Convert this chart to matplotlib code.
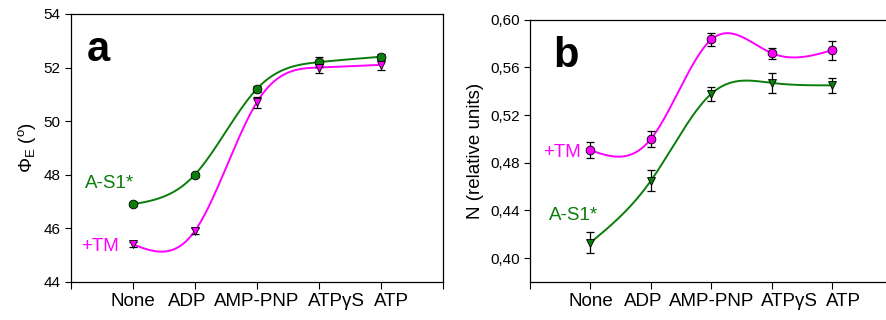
import numpy as np
import matplotlib
matplotlib.use("Agg")
import matplotlib.pyplot as plt

plt.rcParams.update({
    'font.family': ['Liberation Sans', 'DejaVu Sans'],
    'mathtext.fontset': 'custom',
    'mathtext.rm': 'Liberation Sans',
    'mathtext.it': 'Liberation Sans:italic',
})

# ── Data ──
labels = ['None', 'ADP', 'AMP-PNP', 'ATP\u03b3S', 'ATP']
# label centres are nudged off the ticks, as in the original figure
label_pos = [0.0, 0.87, 2.0, 3.29, 4.18]

# panel a: Phi_E (degrees)
a_s1_phi = [46.9, 48.0, 51.2, 52.2, 52.4]
a_s1_phi_err = [0.08, 0.08, 0.12, 0.18, 0.12]
tm_phi = [45.4, 45.9, 50.7, 52.0, 52.1]
tm_phi_err = [0.08, 0.12, 0.2, 0.2, 0.2]

# panel b: N (relative units)
tm_n = [0.4905, 0.500, 0.5835, 0.572, 0.5745]
tm_n_err = [0.0067, 0.0067, 0.0056, 0.0045, 0.0078]
a_s1_n = [0.413, 0.465, 0.538, 0.547, 0.545]
a_s1_n_err = [0.009, 0.009, 0.006, 0.008, 0.006]

GREEN = '#0a7d0a'
MAGENTA = '#ff00ff'


def natural_spline(y, n=300):
    """Natural cubic spline through equally spaced points x = 0..len(y)-1."""
    y = np.asarray(y, float)
    m = len(y)
    A = np.zeros((m, m))
    r = np.zeros(m)
    A[0, 0] = A[-1, -1] = 1
    for i in range(1, m - 1):
        A[i, i - 1], A[i, i], A[i, i + 1] = 1, 4, 1
        r[i] = 6 * (y[i + 1] - 2 * y[i] + y[i - 1])
    M = np.linalg.solve(A, r)
    xs = np.linspace(0, m - 1, n)
    idx = np.clip(np.floor(xs).astype(int), 0, m - 2)
    t = xs - idx
    ys = ((1 - t) * y[idx] + t * y[idx + 1]
          + ((1 - t) ** 3 - (1 - t)) * M[idx] / 6
          + (t ** 3 - t) * M[idx + 1] / 6)
    return xs, ys


def series(ax, vals, errs, color, marker):
    x = np.arange(len(vals))
    xs, ys = natural_spline(vals)
    ax.plot(xs, ys, color=color, lw=1.4, zorder=2)
    ax.errorbar(x, vals, yerr=errs, fmt='none', ecolor='black',
                elinewidth=0.9, capsize=3, capthick=0.9, zorder=3)
    ax.plot(x, vals, linestyle='none', marker=marker, ms=6.3,
            mfc=color, mec='black', mew=0.6, zorder=4)


def style_axes(ax):
    ax.set_xlim(-1, 5)
    ax.xaxis.remove_overlapping_locs = False
    ax.set_xticks(range(-1, 6))
    ax.set_xticklabels([])
    ax.set_xticks(label_pos, minor=True)
    ax.set_xticklabels(labels, minor=True, fontsize=13.5)
    ax.tick_params(axis='x', which='major', direction='out', length=5)
    ax.tick_params(axis='x', which='minor', length=0, pad=8)
    ax.tick_params(axis='y', direction='out', length=4, labelsize=11)
    for s in ax.spines.values():
        s.set_linewidth(0.9)


fig = plt.figure(figsize=(8.87, 3.2), dpi=100)

# ── Panel a ──
ax1 = fig.add_axes([0.080, 0.119, 0.419, 0.8375])
series(ax1, a_s1_phi, a_s1_phi_err, GREEN, 'o')
series(ax1, tm_phi, tm_phi_err, MAGENTA, 'v')
style_axes(ax1)
ax1.set_ylim(44, 54)
ax1.set_yticks(range(44, 55, 2))
ax1.set_ylabel(r'$\Phi_\mathrm{E}$ ($^\mathrm{o}$)', fontsize=13.5, labelpad=4)
ax1.text(-0.75, 52.65, 'a', fontsize=30, fontweight='bold', va='center')
ax1.text(-0.77, 47.68, 'A-S1*', color=GREEN, fontsize=13.5, va='center')
ax1.text(-0.83, 45.32, '+TM', color=MAGENTA, fontsize=13.5, va='center')

# ── Panel b ──
ax2 = fig.add_axes([0.5975, 0.119, 0.409, 0.819])
series(ax2, tm_n, tm_n_err, MAGENTA, 'o')
series(ax2, a_s1_n, a_s1_n_err, GREEN, 'v')
style_axes(ax2)
ax2.set_ylim(0.38, 0.60)
ax2.set_yticks(np.arange(0.40, 0.601, 0.04))
ax2.set_yticklabels([f'{v:.2f}'.replace('.', ',') for v in np.arange(0.40, 0.601, 0.04)])
ax2.set_ylabel('N (relative units)', fontsize=13.5, labelpad=4)
ax2.text(-0.62, 0.570, 'b', fontsize=30, fontweight='bold', va='center')
ax2.text(-0.78, 0.489, '+TM', color=MAGENTA, fontsize=13.5, va='center')
ax2.text(-0.69, 0.436, 'A-S1*', color=GREEN, fontsize=13.5, va='center')

fig.savefig('out.png', dpi=100)
